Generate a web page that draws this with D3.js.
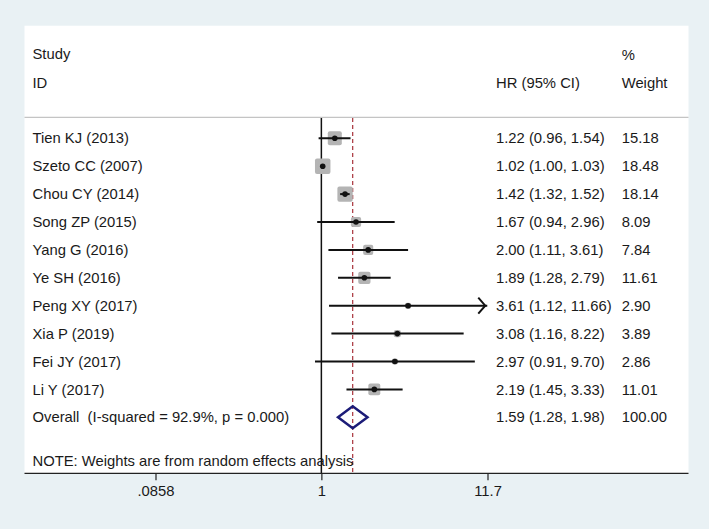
<!DOCTYPE html>
<html>
<head>
<meta charset="utf-8">
<script src="https://cdn.jsdelivr.net/npm/d3@7"></script>
<style>
  html, body { margin: 0; padding: 0; background: #e9f1f4; }
  svg { display: block; }
  text { font-family: "Liberation Sans", Arial, sans-serif; fill: #1a1a1a; white-space: pre; }
</style>
</head>
<body>
<svg id="chart" width="709" height="529"></svg>
<script>
// ---- data ----
const studies = ["Tien KJ (2013)", "Szeto CC (2007)", "Chou CY (2014)", "Song ZP (2015)", "Yang G (2016)",
                 "Ye SH (2016)", "Peng XY (2017)", "Xia P (2019)", "Fei JY (2017)", "Li Y (2017)"];
const hr     = [1.22, 1.02, 1.42, 1.67, 2.00, 1.89, 3.61, 3.08, 2.97, 2.19];
const lower  = [0.96, 1.00, 1.32, 0.94, 1.11, 1.28, 1.12, 1.16, 0.91, 1.45];
const upper  = [1.54, 1.03, 1.52, 2.96, 3.61, 2.79, 11.66, 8.22, 9.70, 3.33];
const weight = [15.18, 18.48, 18.14, 8.09, 7.84, 11.61, 2.90, 3.89, 2.86, 11.01];
const overallLabel = "Overall  (I-squared = 92.9%, p = 0.000)";
const overall = { hr: 1.59, lower: 1.28, upper: 1.98, weight: 100.00 };
const tickValues = [0.0858, 1, 11.7];
const tickLabels = [".0858", "1", "11.7"];
const arrowed = [false, false, false, false, false, false, true, false, false, false];

const fmt2 = d3.format(".2f");

const svg = d3.select("#chart");
const panel = { x0: 24.5, x1: 688.5, y0: 25.7, y1: 473.3 };

// white panel
svg.append("rect").attr("x", panel.x0).attr("y", panel.y0)
  .attr("width", panel.x1 - panel.x0).attr("height", panel.y1 - panel.y0)
  .attr("fill", "#ffffff");

const x = d3.scaleLog().domain([0.0858, 11.7]).range([155.5, 487.5]);
const rows = studies.concat([overallLabel]);
const y = d3.scalePoint().domain(rows).range([138.3, 417.3]);
const side = d3.scaleSqrt().domain([0, 100]).range([0, 36]);

const fs = 14.8;

// headers
const hdr = svg.append("g").attr("font-size", fs);
hdr.append("text").attr("x", 32.5).attr("y", 54).attr("dy", "0.35em").text("Study");
hdr.append("text").attr("x", 32.5).attr("y", 83).attr("dy", "0.35em").text("ID");
hdr.append("text").attr("x", 496).attr("y", 83).attr("dy", "0.35em").text("HR (95% CI)");
hdr.append("text").attr("x", 621.7).attr("y", 55).attr("dy", "0.35em").text("%");
hdr.append("text").attr("x", 621.7).attr("y", 83).attr("dy", "0.35em").text("Weight");

// separator line
svg.append("line").attr("x1", panel.x0).attr("x2", panel.x1)
  .attr("y1", 117.3).attr("y2", 117.3)
  .attr("stroke", "#c4c4c4").attr("stroke-width", 1.2);

// dashed overall line
svg.append("line").attr("x1", x(overall.hr)).attr("x2", x(overall.hr))
  .attr("y1", 118).attr("y2", panel.y1)
  .attr("stroke", "#a8323a").attr("stroke-width", 1.2)
  .attr("stroke-dasharray", "4,3");

// null line
svg.append("line").attr("x1", x(1)).attr("x2", x(1))
  .attr("y1", 118).attr("y2", panel.y1)
  .attr("stroke", "#111").attr("stroke-width", 1.5);

// study rows
const data = studies.map((s, i) => ({ s, hr: hr[i], lo: lower[i], hi: upper[i], w: weight[i], arrow: arrowed[i] }));

const g = svg.append("g");
// squares
g.selectAll("rect.box").data(data).enter().append("rect")
  .attr("class", "box")
  .attr("x", d => x(d.hr) - side(d.w) / 2)
  .attr("y", d => y(d.s) - side(d.w) / 2)
  .attr("width", d => side(d.w)).attr("height", d => side(d.w))
  .attr("rx", 2).attr("fill", "#b4b4b4");
// CI lines
g.selectAll("line.ci").data(data).enter().append("line")
  .attr("class", "ci")
  .attr("x1", d => x(d.lo)).attr("x2", d => x(d.hi))
  .attr("y1", d => y(d.s)).attr("y2", d => y(d.s))
  .attr("stroke", "#111").attr("stroke-width", 2);
// arrows
g.selectAll("path.arrow").data(data.filter(d => d.arrow)).enter().append("path")
  .attr("class", "arrow")
  .attr("d", d => {
    const xe = x(d.hi) - 2, yy = y(d.s);
    return `M${xe - 7},${yy - 8} L${xe},${yy} L${xe - 7},${yy + 8}`;
  })
  .attr("fill", "none").attr("stroke", "#111").attr("stroke-width", 2);
// point dots
g.selectAll("circle.pt").data(data).enter().append("circle")
  .attr("class", "pt")
  .attr("cx", d => x(d.hr)).attr("cy", d => y(d.s)).attr("r", 2.8)
  .attr("fill", "#111");

// overall diamond
const oy = y(overallLabel);
svg.append("path")
  .attr("d", `M${x(overall.lower)},${oy} L${x(overall.hr)},${oy - 11} L${x(overall.upper)},${oy} L${x(overall.hr)},${oy + 11} Z`)
  .attr("fill", "none").attr("stroke", "#1c1c78").attr("stroke-width", 2.5);

// text columns
const t = svg.append("g").attr("font-size", fs);
t.selectAll("text.lab").data(rows).enter().append("text")
  .attr("x", 32.5).attr("y", d => y(d)).attr("dy", "0.35em")
  .attr("xml:space", "preserve").text(d => d);

const allRows = data.concat([{ s: overallLabel, hr: overall.hr, lo: overall.lower, hi: overall.upper, w: overall.weight }]);
t.selectAll("text.hr").data(allRows).enter().append("text")
  .attr("x", 496).attr("y", d => y(d.s)).attr("dy", "0.35em")
  .text(d => `${fmt2(d.hr)} (${fmt2(d.lo)}, ${fmt2(d.hi)})`);
t.selectAll("text.w").data(allRows).enter().append("text")
  .attr("x", 621.7).attr("y", d => y(d.s)).attr("dy", "0.35em")
  .text(d => fmt2(d.w));

// note
t.append("text").attr("x", 32.5).attr("y", 460.7).attr("dy", "0.35em")
  .text("NOTE: Weights are from random effects analysis");

// axis
svg.append("line").attr("x1", panel.x0).attr("x2", panel.x1)
  .attr("y1", panel.y1).attr("y2", panel.y1)
  .attr("stroke", "#222").attr("stroke-width", 1.3);
const axis = d3.axisBottom(x).tickValues(tickValues)
  .tickFormat((d, i) => tickLabels[i]).tickSize(7).tickPadding(5);
const ag = svg.append("g").attr("transform", `translate(0,${panel.y1})`).call(axis);
ag.select(".domain").remove();
ag.selectAll(".tick line").attr("stroke", "#222").attr("stroke-width", 1.2);
ag.selectAll(".tick text").attr("font-size", fs).attr("fill", "#1a1a1a")
  .attr("font-family", "'Liberation Sans', Arial, sans-serif");
</script>
</body>
</html>
